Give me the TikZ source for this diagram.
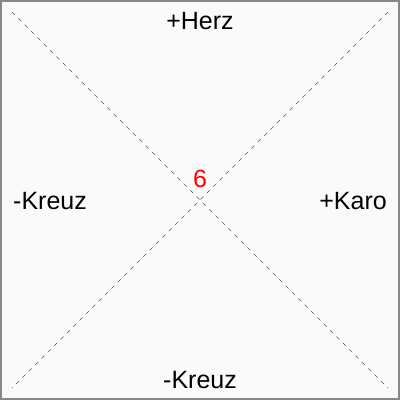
\documentclass[tikz,border=0pt]{standalone}
\usepackage{fontspec}
\setmainfont{Liberation Sans}
\definecolor{frame}{HTML}{888888}
\definecolor{paper}{HTML}{FAFAFA}
\definecolor{diag}{HTML}{555555}

\begin{document}
\begin{tikzpicture}[x=1pt,y=-1pt,
    lbl/.style={font=\fontsize{25}{29}\selectfont, inner sep=0pt, anchor=base},
    guide/.style={diag, line width=0.7pt, dash pattern=on 4pt off 5pt}]
  % Frame and paper.
  \fill[paper] (0,0) rectangle (400,400);
  \draw[frame, line width=2pt] (1,1) rectangle (399,399);
  \useasboundingbox (0,0) rectangle (400,400);
  % Corners of the diagonals.
  \coordinate (nw) at (12,12);
  \coordinate (ne) at (388,12);
  \coordinate (sw) at (12,388);
  \coordinate (se) at (388,388);
  \draw[guide] (nw) -- (se);
  \draw[guide] (ne) -- (sw);
  % Labels.
  \node[lbl] (herz) at (200,29) {+Herz};
  \node[lbl, anchor=base west] (kreuzL) at (13,209) {-Kreuz};
  \node[lbl, anchor=base east] (karo) at (387,209) {+Karo};
  \node[lbl] (kreuzB) at (200,388) {-Kreuz};
  \node[lbl, red] (six) at (200,187) {6};
\end{tikzpicture}
\end{document}
